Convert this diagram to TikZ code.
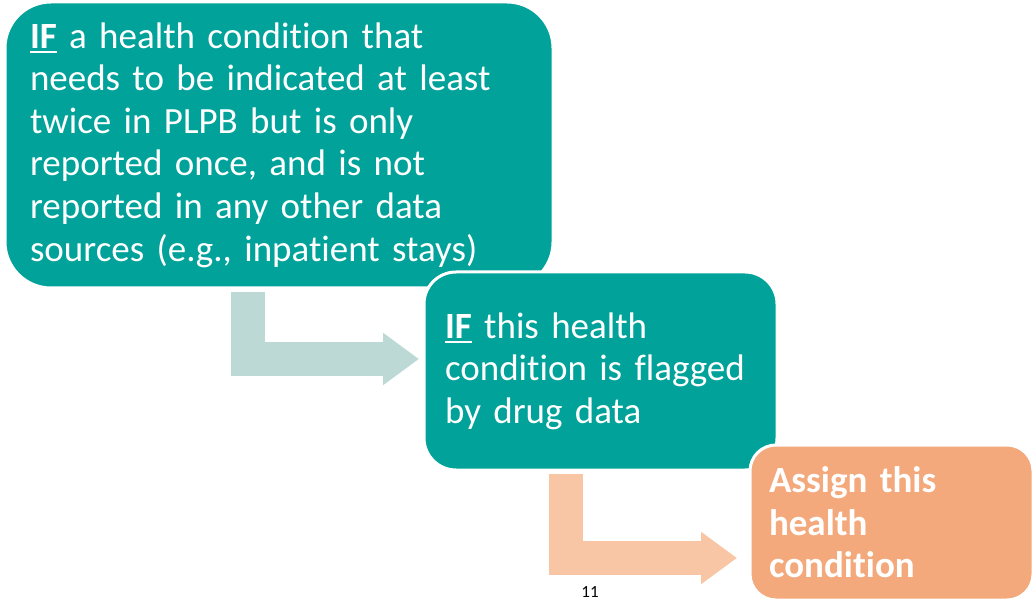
\documentclass[tikz,border=0pt]{standalone}
\usepackage{fontspec}
\setmainfont[Ligatures=NoCommon]{Carlito}
\usetikzlibrary{arrows.meta}
\definecolor{teal}{HTML}{00A29A}
\definecolor{tealarrow}{HTML}{BDD9D5}
\definecolor{orangebox}{HTML}{F3A97B}
\definecolor{orangearrow}{HTML}{F8C6A4}
% bold, underlined "IF" with a heavier rule
\newcommand\ifword{\setbox0\hbox{\textbf{IF}}\rlap{\rule[-5pt]{\wd0}{2.5pt}}\box0}
\tikzset{
  box/.style={draw=white, line width=3pt, text=white, align=left,
    inner ysep=0pt, font=\fontsize{37}{42.6}\selectfont},
  bentarrow/.style={line width=34pt, line cap=butt, line join=miter,
    -{Triangle[length=36pt,width=50pt]}},
}
\begin{document}
\begin{tikzpicture}[x=1pt,y=-1pt]
\useasboundingbox (0,0) rectangle (1036,601);
% first condition
\node[box, fill=teal, rounded corners=46pt, text width=498pt, inner xsep=25pt,
  minimum height=286pt] (box1) at (279,145)
  {\ifword{} a health condition that\\ needs to be indicated at least\\ twice in PLPB but is only\\ reported once, and is not\\ reported in any other data\\ sources (e.g., inpatient stays)};
% second condition
\node[box, fill=teal, rounded corners=32pt, text width=311pt, inner xsep=21pt,
  minimum height=198pt] (box2) at (600.5,371)
  {\ifword{} this health\\ condition is flagged\\ by drug data};
% outcome
\node[box, fill=orangebox, rounded corners=26pt, text width=245pt, inner xsep=19pt,
  minimum height=155pt, font=\fontsize{37}{42.6}\selectfont\bfseries] (box3) at (891.5,522.5)
  {Assign this\\ health\\ condition};
% bent arrows between the boxes
\coordinate (a1s) at (248,292);
\coordinate (a1t) at (419,359);
\coordinate (a2s) at (565.5,474);
\coordinate (a2t) at (737,558);
\draw[bentarrow, draw=tealarrow] (a1s) |- (a1t);
\draw[bentarrow, draw=orangearrow] (a2s) |- (a2t);
% slide number
\node[font=\fontsize{17}{19}\selectfont, text=black] (pagenum) at (590,592) {11};
\end{tikzpicture}
\end{document}
